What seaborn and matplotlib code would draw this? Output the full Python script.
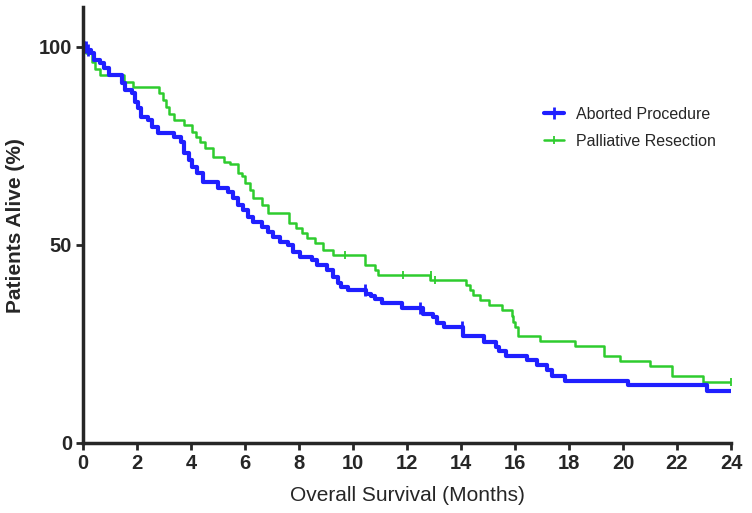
import pandas as pd
import numpy as np
import matplotlib
matplotlib.use('Agg')
import matplotlib.pyplot as plt
from matplotlib.lines import Line2D
import seaborn as sns

# step points (months, % alive)
aborted_t = [0, 0.15, 0.3, 0.42, 0.63, 0.77, 0.95, 1.43, 1.56, 1.8, 1.93, 2.04, 2.16, 2.42,
             2.54, 2.78, 3.38, 3.63, 3.75, 3.93, 4.05, 4.24, 4.45, 5.01, 5.38, 5.57, 5.75,
             5.94, 6.12, 6.31, 6.62, 6.86, 7.05, 7.3, 7.6, 7.79, 8.04, 8.47, 8.65, 9.02,
             9.27, 9.46, 9.55, 9.83, 10.5, 10.65, 10.81, 11.08, 11.8, 12.6, 12.97, 13.13,
             13.38, 14.09, 14.86, 15.3, 15.41, 15.66, 16.43, 16.8, 17.2, 17.36, 17.85, 20.2,
             23.1, 24.0]
aborted_s = [100, 99.2, 98.4, 96.7, 96.0, 94.6, 92.9, 90.8, 89.1, 88.3, 86.2, 84.5, 82.4, 81.6,
             79.9, 78.2, 77.3, 76.1, 73.2, 71.5, 69.8, 68.1, 65.8, 64.3, 63.5, 61.8, 60.1,
             58.8, 57.1, 55.9, 54.6, 53.4, 52.1, 50.8, 50.0, 48.3, 47.0, 46.2, 44.9, 43.7,
             42.0, 40.3, 39.5, 38.6, 37.6, 37.0, 36.3, 35.3, 34.2, 32.6, 31.7, 30.4,
             29.2, 27.0, 25.4, 24.3, 23.3, 22.0, 21.0, 19.7, 18.4, 17.0, 15.7, 14.6,
             13.2, 13.2]
aborted_cens_t = [0.05, 0.1, 0.2, 10.44, 12.5, 14.05]
aborted_cens_s = [100, 100, 99.2, 38.6, 34.2, 29.2]

palliative_t = [0, 0.1, 0.32, 0.45, 0.63, 1.5, 1.86, 2.83, 2.95, 3.08, 3.2, 3.38, 3.75, 4.05,
                4.18, 4.33, 4.52, 4.83, 5.24, 5.45, 5.75, 5.9, 6.0, 6.19, 6.31, 6.62, 6.86,
                7.64, 7.9, 8.1, 8.28, 8.59, 8.9, 9.27, 10.44, 10.8, 10.94, 12.85, 14.2,
                14.33, 14.46, 14.7, 15.03, 15.53, 15.88, 15.93, 16.0, 16.12, 16.93, 18.22,
                19.3, 19.9, 21.0, 21.8, 22.97, 24.0]
palliative_s = [100, 98.5, 96.3, 94.5, 92.9, 91.2, 89.8, 88.3, 86.5, 84.9, 83.2, 81.6, 80.3, 78.6,
                77.2, 75.9, 74.4, 72.3, 71.0, 70.4, 68.3, 67.5, 65.6, 63.9, 61.8, 60.1, 58.0,
                55.5, 54.2, 53.0, 51.7, 50.4, 48.7, 47.5, 44.9, 43.7, 42.4, 41.2, 39.9,
                38.6, 37.4, 36.1, 34.8, 33.6, 32.1, 30.6, 29.4, 26.9, 25.7, 24.5,
                22.0, 20.7, 19.4, 16.9, 15.5, 15.5]
palliative_cens_t = [9.7, 11.85, 12.9, 13.04, 24.0]
palliative_cens_s = [47.5, 42.4, 42.4, 41.2, 15.5]

x_ticks = list(range(0, 25, 2))
y_ticks = [0, 50, 100]

blue = '#1f1fff'
green = '#2ecc2e'

sns.set_style('ticks')
plt.rcParams['font.family'] = ['Liberation Sans', 'DejaVu Sans']

df_a = pd.DataFrame({'Months': aborted_t, 'Alive': aborted_s})
df_p = pd.DataFrame({'Months': palliative_t, 'Alive': palliative_s})

fig = plt.figure(figsize=(7.52, 5.13), dpi=100)
ax = fig.add_axes([0.1104, 0.1365, 0.8616, 0.8491])

sns.lineplot(data=df_p, x='Months', y='Alive', ax=ax, color=green, lw=1.8,
             drawstyle='steps-post', sort=False, estimator=None)
sns.lineplot(data=df_a, x='Months', y='Alive', ax=ax, color=blue, lw=3.0,
             drawstyle='steps-post', sort=False, estimator=None)
ax.plot(aborted_cens_t, aborted_cens_s, ls='none', marker='|', ms=9, mew=2.0, color=blue)
ax.plot(palliative_cens_t, palliative_cens_s, ls='none', marker='|', ms=6, mew=1.3, color=green)

ax.set_xlim(0, 24)
ax.set_ylim(0, 110)
ax.set_xticks(x_ticks)
ax.set_yticks(y_ticks)
ax.tick_params(axis='both', width=2, length=5, labelsize=14.5, pad=3)
for lab in ax.get_xticklabels() + ax.get_yticklabels():
    lab.set_fontweight('bold')
for sp in ['top', 'right']:
    ax.spines[sp].set_visible(False)
for sp in ['left', 'bottom']:
    ax.spines[sp].set_linewidth(2.5)

ax.set_xlabel('Overall Survival (Months)', fontsize=15, labelpad=9)
ax.set_ylabel('Patients Alive (%)', fontsize=15, fontweight='bold', labelpad=10)

handles = [Line2D([], [], color=blue, lw=3, marker='|', ms=9, mew=2),
           Line2D([], [], color=green, lw=1.8, marker='|', ms=6, mew=1.3)]
ax.legend(handles, ['Aborted Procedure', 'Palliative Resection'], loc='upper left',
          bbox_to_anchor=(0.69, 0.805), frameon=False, fontsize=11.5,
          handlelength=1.2, handletextpad=0.8, labelspacing=0.75)

fig.savefig('out.png', dpi=100)
